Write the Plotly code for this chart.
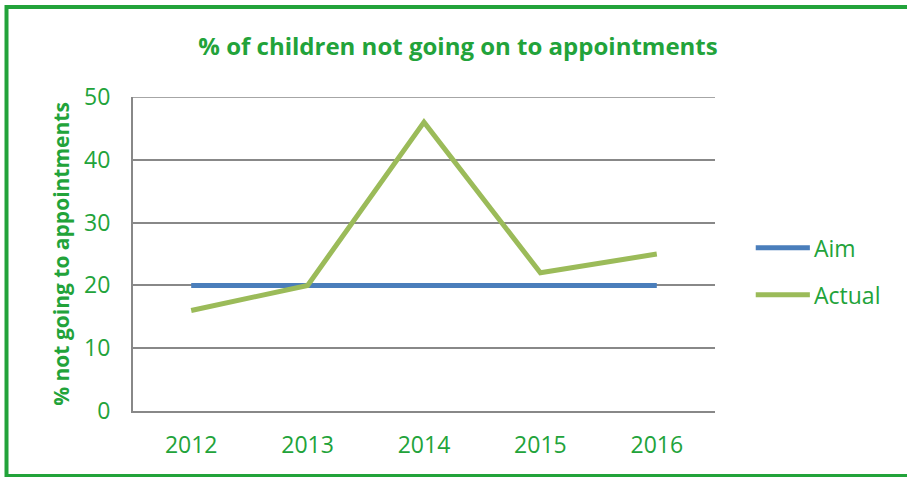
import plotly.graph_objects as go

years = ["2012", "2013", "2014", "2015", "2016"]
aim = [20, 20, 20, 20, 20]
actual = [16, 20, 46, 22, 25]
series_names = ["Aim", "Actual"]
series_colors = ["#4A7EBB", "#9BBB59"]
y_ticks = [0, 10, 20, 30, 40, 50]

GREEN = "#22A33A"
FONT = "Open Sans, Noto Sans, sans-serif"

fig = go.Figure()
for name, vals, col in zip(series_names, [aim, actual], series_colors):
    fig.add_trace(go.Scatter(
        x=years, y=vals, mode="lines", name=name,
        line=dict(color=col, width=5), showlegend=False,
    ))

fig.update_layout(
    width=907, height=477,
    margin=dict(l=133, r=192, t=97, b=66),
    paper_bgcolor="white", plot_bgcolor="white",
    title=dict(text="<b>% of children not going on to appointments</b>",
               x=0.505, xanchor="center", y=0.903, yanchor="middle",
               font=dict(family=FONT, size=24, color=GREEN)),
    xaxis=dict(type="category", range=[-0.5, 4.5], showgrid=False,
               showline=True, linecolor="#888888", linewidth=2,
               ticks="", tickfont=dict(family=FONT, size=23, color=GREEN),
               ticklabelstandoff=12),
    yaxis=dict(range=[0, 50], tickvals=y_ticks, showgrid=True,
               gridcolor="#888888", gridwidth=1.5, zeroline=False,
               showline=True, linecolor="#888888", linewidth=2,
               ticks="", tickfont=dict(family=FONT, size=23, color=GREEN),
               ticklabelstandoff=16,
               title=dict(text="<b>% not going to appointments</b>",
                          font=dict(family=FONT, size=21, color=GREEN),
                          standoff=9)),
    showlegend=False,
)

# Top gridline at 50
fig.add_shape(type="line", xref="paper", yref="y", x0=0, x1=1, y0=50, y1=50,
              line=dict(color="#888888", width=1.5))

# Custom legend
legend_y = [0.52, 0.37]
for name, col, ly in zip(series_names, series_colors, legend_y):
    fig.add_shape(type="line", xref="paper", yref="paper",
                  x0=1.07, x1=1.163, y0=ly, y1=ly,
                  line=dict(color=col, width=5))
    fig.add_annotation(text=name, xref="paper", yref="paper", x=1.166, y=ly,
                       xanchor="left", yanchor="middle", showarrow=False,
                       font=dict(family=FONT, size=23, color=GREEN))

# Outer green border
fig.add_shape(type="rect", xref="paper", yref="paper",
              x0=-126.5 / 582, x1=(912 - 133) / 582,
              y0=-(476 - 411) / 314, y1=(411 - 7) / 314,
              line=dict(color=GREEN, width=4), layer="below")

fig.write_html("out.html", config={"displayModeBar": False},
               post_script="document.body.style.margin='0';document.body.style.overflow='hidden';")
